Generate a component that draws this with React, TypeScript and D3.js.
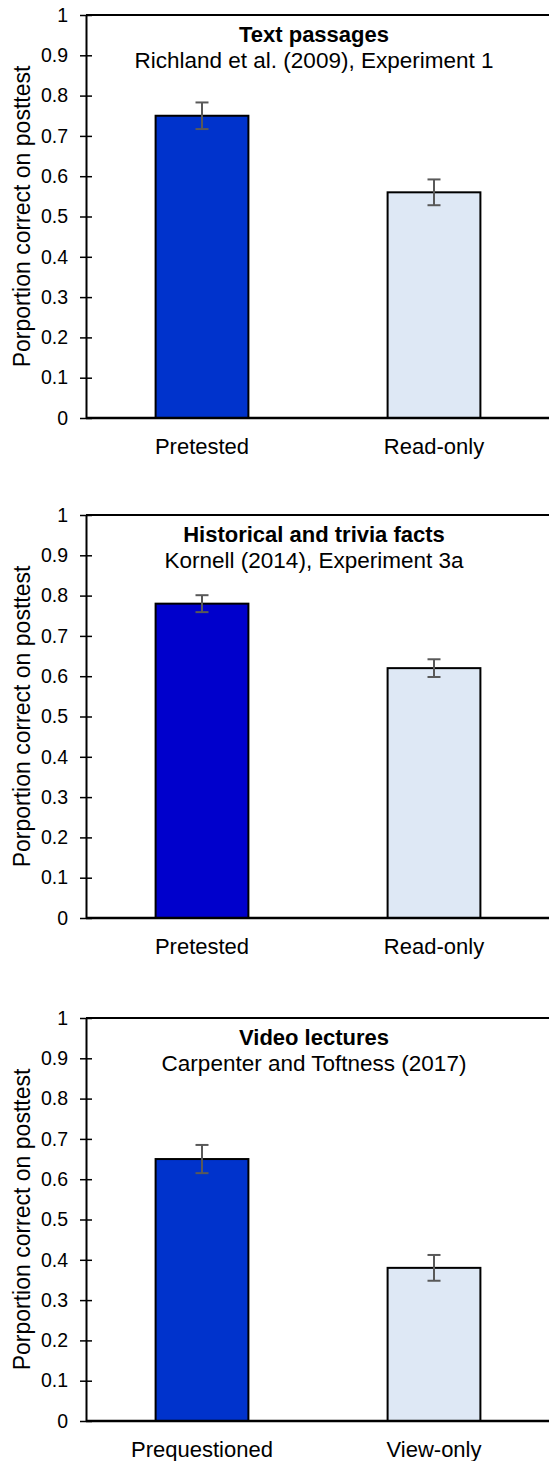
import React, { useRef, useEffect } from "react";
import * as d3 from "d3";

// chart values
const panelTitles = ["Text passages", "Historical and trivia facts", "Video lectures"];
const panelSources = [
  "Richland et al. (2009), Experiment 1",
  "Kornell (2014), Experiment 3a",
  "Carpenter and Toftness (2017)",
];
const categories = [
  ["Pretested", "Read-only"],
  ["Pretested", "Read-only"],
  ["Prequestioned", "View-only"],
];
const means = [
  [0.75, 0.56],
  [0.78, 0.62],
  [0.65, 0.38],
];
const errors = [
  [0.033, 0.032],
  [0.021, 0.022],
  [0.035, 0.032],
];
const yTicks = [0, 0.1, 0.2, 0.3, 0.4, 0.5, 0.6, 0.7, 0.8, 0.9, 1];
const yLabel = "Porportion correct on posttest";
const testedColors = ["#0033cc", "#0000cc", "#0033cc"];
const controlColor = "#dee8f5";

const App = () => {
  const svgRef = useRef<SVGSVGElement>(null);

  useEffect(() => {
    const svg = d3.select(svgRef.current);
    svg.selectAll("*").remove();
    const width = 549;
    const height = 1461;
    const panelTops = [15, 515, 1018];
    const plotH = 403;
    const left = 86;
    const right = 550;
    const font = "'Liberation Sans', Arial, sans-serif";

    svg.attr("width", width).attr("height", height);

    panelTops.forEach((top, p) => {
      const g = svg.append("g");
      const bottom = top + plotH;

      const x = d3
        .scaleBand()
        .domain(categories[p])
        .range([left, right])
        .paddingInner(0.6)
        .paddingOuter(0.3);

      const y = d3.scaleLinear().domain([0, 1]).range([bottom, top]);

      // top border of the plot area
      g.append("line")
        .attr("x1", left)
        .attr("x2", width)
        .attr("y1", top)
        .attr("y2", top)
        .attr("stroke", "#000")
        .attr("stroke-width", 2);

      // bars
      g.selectAll(".bar")
        .data(means[p])
        .enter()
        .append("rect")
        .attr("x", (d, i) => x(categories[p][i]))
        .attr("y", (d) => y(d))
        .attr("width", x.bandwidth())
        .attr("height", (d) => bottom - y(d))
        .attr("fill", (d, i) => (i === 0 ? testedColors[p] : controlColor))
        .attr("stroke", "#000")
        .attr("stroke-width", 2);

      // error bars
      const err = g
        .selectAll(".err")
        .data(means[p])
        .enter()
        .append("g")
        .attr("stroke", "#595959")
        .attr("stroke-width", 2);
      const cx = (i) => x(categories[p][i]) + x.bandwidth() / 2;
      err
        .append("line")
        .attr("x1", (d, i) => cx(i))
        .attr("x2", (d, i) => cx(i))
        .attr("y1", (d, i) => y(d + errors[p][i]))
        .attr("y2", (d, i) => y(d - errors[p][i]));
      err
        .append("line")
        .attr("x1", (d, i) => cx(i) - 6.5)
        .attr("x2", (d, i) => cx(i) + 6.5)
        .attr("y1", (d, i) => y(d + errors[p][i]))
        .attr("y2", (d, i) => y(d + errors[p][i]));
      err
        .append("line")
        .attr("x1", (d, i) => cx(i) - 6.5)
        .attr("x2", (d, i) => cx(i) + 6.5)
        .attr("y1", (d, i) => y(d - errors[p][i]))
        .attr("y2", (d, i) => y(d - errors[p][i]));

      // y axis
      const yAxis = g
        .append("g")
        .attr("transform", `translate(${left},0)`)
        .call(
          d3
            .axisLeft(y)
            .tickValues(yTicks)
            .tickSizeInner(6)
            .tickSizeOuter(0)
            .tickPadding(12)
            .tickFormat((d) => String(+(+d).toFixed(1)))
        );
      yAxis.select(".domain").attr("stroke", "#000").attr("stroke-width", 2);
      yAxis.selectAll(".tick line").attr("x1", 6).attr("stroke", "#000").attr("stroke-width", 1.5);
      yAxis
        .selectAll(".tick text")
        .style("font-family", font)
        .style("font-size", "19.5px")
        .attr("fill", "#000");

      // x axis (baseline at zero)
      const xAxis = g
        .append("g")
        .attr("transform", `translate(0,${bottom})`)
        .call(d3.axisBottom(x).tickSize(0).tickPadding(20));
      xAxis.select(".domain").attr("d", `M${left},0H${width}`).attr("stroke", "#000").attr("stroke-width", 2.5);
      xAxis
        .selectAll(".tick text")
        .style("font-family", font)
        .style("font-size", "22px")
        .attr("fill", "#000");

      // titles
      g.append("text")
        .attr("x", 314)
        .attr("y", top + 27)
        .attr("text-anchor", "middle")
        .style("font-family", font)
        .style("font-size", "22px")
        .style("font-weight", "bold")
        .text(panelTitles[p]);
      g.append("text")
        .attr("x", 314)
        .attr("y", top + 53)
        .attr("text-anchor", "middle")
        .style("font-family", font)
        .style("font-size", "22.5px")
        .text(panelSources[p]);

      // y label
      g.append("text")
        .attr("transform", `translate(30,${(top + bottom) / 2}) rotate(-90)`)
        .attr("text-anchor", "middle")
        .style("font-family", font)
        .style("font-size", "23px")
        .text(yLabel);
    });
  }, []);

  return (
    <svg
      ref={svgRef}
      style={{ position: "absolute", left: 0, top: 0, background: "#fff" }}
    ></svg>
  );
};

export default App;
